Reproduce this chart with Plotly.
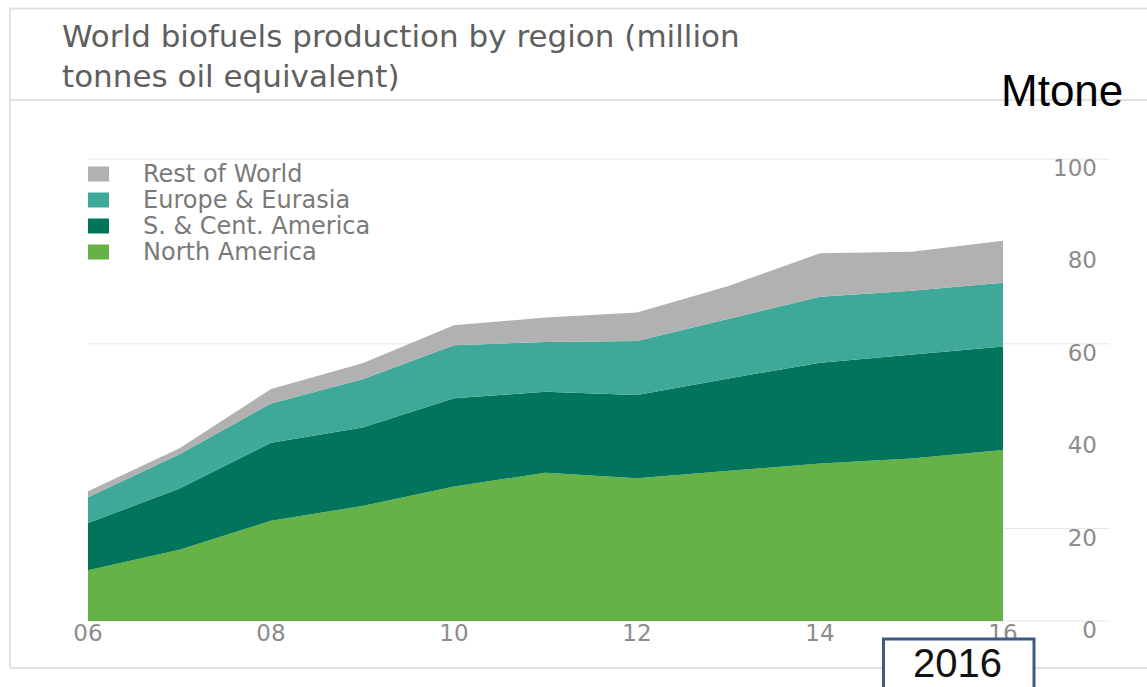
import plotly.graph_objects as go

# ---------------- data ----------------
years = [2006, 2007, 2008, 2009, 2010, 2011, 2012, 2013, 2014, 2015, 2016]
year_labels = ["06", "08", "10", "12", "14", "16"]
year_ticks = [2006, 2008, 2010, 2012, 2014, 2016]

north_america = [11.0, 15.4, 21.7, 24.9, 29.1, 32.1, 30.9, 32.5, 34.1, 35.2, 37.0]
s_cent_america = [10.2, 13.3, 16.9, 17.0, 19.1, 17.5, 18.0, 20.0, 21.8, 22.4, 22.4]
europe_eurasia = [5.6, 7.4, 8.5, 10.4, 11.5, 10.8, 11.7, 12.9, 14.3, 13.9, 13.8]
rest_of_world = [1.3, 1.3, 3.1, 3.5, 4.3, 5.3, 6.2, 7.1, 9.4, 8.4, 9.1]

series_names = ["North America", "S. & Cent. America", "Europe & Eurasia", "Rest of World"]
series_values = [north_america, s_cent_america, europe_eurasia, rest_of_world]
series_colors = ["#67b246", "#00755c", "#3fa999", "#b1b1b1"]

y_ticks = [0, 20, 40, 60, 80, 100]
grid_values = [20, 60, 100]

title_text = "World biofuels production by region (million<br>tonnes oil equivalent)"
unit_label = "Mtone"
year_box_label = "2016"

# ---------------- layout geometry (pixels) ----------------
W, H = 1147, 687
L, R, T, B = 88, 1110, 150, 660      # plot area box
ZERO_PX = 621                         # pixel row of y = 0
PX_PER_UNIT = 4.62
PX_PER_YEAR = 91.5
PW, PH = R - L, B - T


def px(x):
    return (x - L) / PW


def py(y):
    return (B - y) / PH


fig = go.Figure()

for name, vals, col in zip(series_names, series_values, series_colors):
    fig.add_trace(go.Scatter(
        x=years, y=vals, name=name, stackgroup="one", mode="lines",
        line=dict(width=0, color=col), fillcolor=col, showlegend=False,
        hoverinfo="x+y+name",
    ))

shapes = []
# grid lines
for g in grid_values + [0]:
    shapes.append(dict(type="line", xref="paper", yref="y", x0=0, x1=1, y0=g, y1=g,
                       line=dict(color="#e6e6e6", width=1), layer="below"))

# frame lines
frame_col = "#e2e2e2"
shapes.append(dict(type="line", xref="paper", yref="paper", x0=px(10), x1=px(1150), y0=py(8.5), y1=py(8.5),
                   line=dict(color=frame_col, width=2)))
shapes.append(dict(type="line", xref="paper", yref="paper", x0=px(10), x1=px(1150), y0=py(100), y1=py(100),
                   line=dict(color=frame_col, width=2)))
shapes.append(dict(type="line", xref="paper", yref="paper", x0=px(10), x1=px(1150), y0=py(668), y1=py(668),
                   line=dict(color=frame_col, width=2)))
shapes.append(dict(type="line", xref="paper", yref="paper", x0=px(10), x1=px(10), y0=py(8), y1=py(668),
                   line=dict(color=frame_col, width=2)))

# legend swatches
legend_rows = list(zip(series_names, series_colors))[::-1]
annotations = []
for i, (name, col) in enumerate(legend_rows):
    cy = 174 + 26 * i
    shapes.append(dict(type="rect", xref="paper", yref="paper",
                       x0=px(88), x1=px(109), y0=py(cy - 7.5), y1=py(cy + 7.5),
                       fillcolor=col, line=dict(width=0)))
    annotations.append(dict(xref="paper", yref="paper", x=px(141), y=py(cy), text=name,
                            showarrow=False, xanchor="left", yanchor="middle",
                            font=dict(family="DejaVu Sans", size=24, color="#7a7a7a")))

# 2016 box
shapes.append(dict(type="rect", xref="paper", yref="paper",
                   x0=px(883.5), x1=px(1034), y0=py(639), y1=py(705),
                   fillcolor="white", line=dict(color="#3d5a86", width=3)))
annotations.append(dict(xref="paper", yref="paper", x=px(957), y=py(663), text=year_box_label,
                        showarrow=False, xanchor="center", yanchor="middle",
                        font=dict(family="Liberation Sans", size=40, color="#111111")))

# title
annotations.append(dict(xref="paper", yref="paper", x=px(60), y=py(56), text=title_text,
                        showarrow=False, xanchor="left", yanchor="middle", align="left",
                        font=dict(family="DejaVu Sans", size=31, color="#5f5f5f")))

# unit label
annotations.append(dict(xref="paper", yref="paper", x=px(1062), y=py(91), text=unit_label,
                        showarrow=False, xanchor="center", yanchor="middle",
                        font=dict(family="Liberation Sans Narrow, Liberation Sans", size=44, color="#000000")))

y_low = -(B - ZERO_PX) / PX_PER_UNIT
y_high = (ZERO_PX - T) / PX_PER_UNIT

fig.update_layout(
    width=W, height=H, autosize=False,
    margin=dict(l=L, r=W - R, t=T, b=H - B, pad=0),
    paper_bgcolor="white", plot_bgcolor="white",
    showlegend=False,
    shapes=shapes, annotations=annotations,
    xaxis=dict(range=[2006, 2006 + PW / PX_PER_YEAR], tickvals=year_ticks, ticktext=year_labels,
               anchor="free", position=(B - ZERO_PX) / PH,
               showgrid=False, zeroline=False, showline=False, ticks="",
               ticklabelstandoff=-4,
               tickfont=dict(family="DejaVu Sans", size=23, color="#8c8c8c")),
    yaxis=dict(range=[y_low, y_high], tickvals=y_ticks, side="right",
               ticklabelposition="inside", ticklabelshift=9, ticklabelstandoff=10,
               showgrid=False, zeroline=False, showline=False, ticks="",
               tickfont=dict(family="DejaVu Sans", size=23, color="#8c8c8c")),
)

fig.write_html("out.html")
